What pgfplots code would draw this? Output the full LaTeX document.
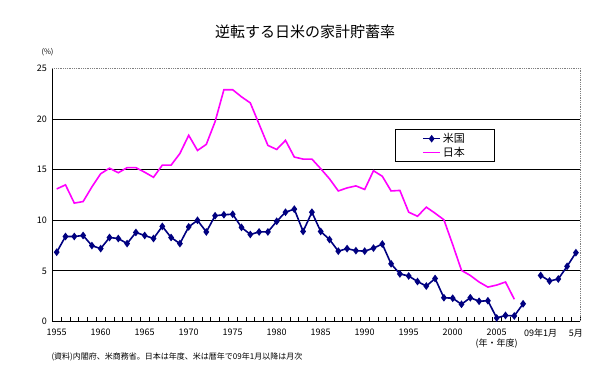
\documentclass[border=0pt]{standalone}
\usepackage{pgfplots}
\pgfplotsset{compat=1.18}
\usepackage{pgfplotstable}
\usepackage{fontspec}
\setmainfont{Noto Sans CJK JP}
\definecolor{usnavy}{RGB}{0,0,128}
\definecolor{jpmag}{RGB}{255,0,255}

\pgfplotstableread{
x y
0 6.85
1 8.4
2 8.4
3 8.5
4 7.5
5 7.2
6 8.3
7 8.2
8 7.7
9 8.8
10 8.5
11 8.2
12 9.4
13 8.3
14 7.7
15 9.35
16 10.0
17 8.85
18 10.45
19 10.55
20 10.6
21 9.3
22 8.6
23 8.85
24 8.85
25 9.9
26 10.8
27 11.1
28 8.9
29 10.8
30 8.9
31 8.1
32 6.95
33 7.2
34 7.0
35 6.95
36 7.25
37 7.65
38 5.7
39 4.7
40 4.5
41 3.95
42 3.5
43 4.25
44 2.35
45 2.3
46 1.7
47 2.35
48 2.0
49 2.05
50 0.35
51 0.6
52 0.55
53 1.75
}\usannual

\pgfplotstableread{
x y
55 4.55
56 4.0
57 4.2
58 5.45
59 6.8
}\usmonthly

\pgfplotstableread{
x y
0 13.1
1 13.5
2 11.7
3 11.85
4 13.3
5 14.6
6 15.15
7 14.7
8 15.2
9 15.2
10 14.75
11 14.25
12 15.45
13 15.45
14 16.6
15 18.4
16 16.9
17 17.5
18 19.75
19 22.9
20 22.9
21 22.2
22 21.6
23 19.5
24 17.4
25 17.0
26 17.9
27 16.25
28 16.05
29 16.05
30 15.1
31 14.1
32 12.9
33 13.2
34 13.4
35 13.05
36 14.9
37 14.35
38 12.9
39 12.95
40 10.8
41 10.4
42 11.3
43 10.7
44 10.05
45 7.6
46 5.05
47 4.55
48 3.9
49 3.4
50 3.6
51 3.9
52 2.2
}\japan

\begin{document}
\begin{tikzpicture}[x=1pt,y=1pt]
\path[use as bounding box] (0,0) rectangle (616,382);
\begin{axis}[
  at={(52.3pt,60.5pt)}, anchor=south west,
  scale only axis, width=528pt, height=253pt,
  xmin=-0.5, xmax=59.5, ymin=0, ymax=25,
  axis x line*=bottom, axis y line*=left,
  axis line style={black, line width=0.8pt, -},
  ytick={0,5,10,15,20,25},
  extra y ticks={5,10,15,20},
  extra y tick style={grid=major, yticklabels={}, major tick length=0pt},
  major grid style={black, line width=0.8pt},
  xtick={0,5,10,15,20,25,30,35,40,45,50,55,59},
  xticklabels={1955,1960,1965,1970,1975,1980,1985,1990,1995,2000,{2005\\(年・年度)},09年1月,5月},
  xticklabel style={align=center, anchor=north, yshift=-4pt, font=\fontsize{9}{11}\selectfont},
  yticklabel style={font=\fontsize{9}{10}\selectfont, xshift=-2pt},
  minor xtick={-0.5,0.5,...,59.5},
  tick style={black, line width=0.6pt},
  major tick length=0pt,
  minor tick length=4pt,
  xtick align=inside,
  /pgf/number format/assume math mode=true,
  legend style={at={(rel axis cs:0.649,0.761)}, anchor=north west, draw=black, line width=0.8pt,
    font=\fontsize{11}{12}\selectfont, inner xsep=27pt, inner ysep=2pt, row sep=-1pt,
    legend cell align=left},
  legend image post style={line width=1.5pt},
  clip=false,
]
\draw[gray, densely dotted, line width=0.8pt] (rel axis cs:0,1) -- (rel axis cs:1,1) -- (rel axis cs:1,0);
\addplot[usnavy, line width=1.6pt, mark=diamond*, mark size=2.6pt, mark options={solid}] table[x=x,y=y] {\usannual};
\addlegendentry{米国}
\addplot[jpmag, line width=1.6pt, no marks] table[x=x,y=y] {\japan};
\addlegendentry{日本}
\addplot[usnavy, line width=1.6pt, mark=diamond*, mark size=2.6pt, forget plot] table[x=x,y=y] {\usmonthly};
\end{axis}
\node[font=\fontsize{15}{16}\selectfont] at (305,350) {逆転する日米の家計貯蓄率};
\node[font=\fontsize{7.5}{8}\selectfont, anchor=west] at (38,330) {(\%)};
\node[font=\fontsize{8}{9}\selectfont, anchor=west] at (48,25) {(資料)内閣府、米商務省。日本は年度、米は暦年で09年1月以降は月次};
\end{tikzpicture}
\end{document}
